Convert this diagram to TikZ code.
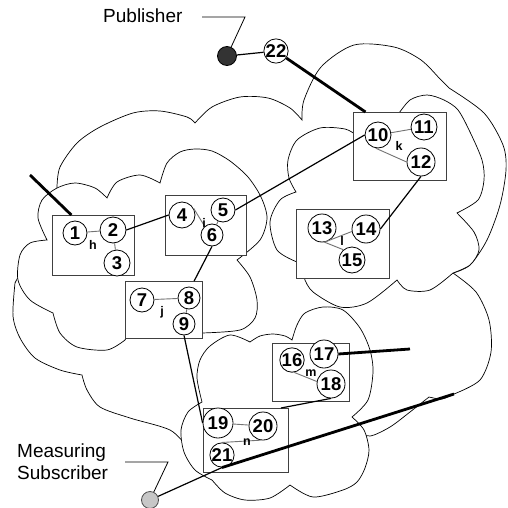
\documentclass[tikz,border=0pt]{standalone}
\usepackage{fontspec}
\setmainfont{Liberation Sans}
\begin{document}
\begin{tikzpicture}[x=1pt,y=-1pt,
  cloud/.style={draw=black, fill=white, line width=0.7pt},
  boxst/.style={draw=black!75, fill=white, line width=1.1pt, inner sep=0pt, anchor=north west},
  circ/.style={circle, draw=black, fill=white, line width=0.8pt, inner sep=0pt, font=\bfseries\fontsize{18.5}{18.5}\selectfont},
  lbl/.style={font=\bfseries\fontsize{12.5}{12.5}\selectfont, inner sep=0pt},
  txt/.style={font=\fontsize{19}{22}\selectfont, inner sep=0pt, align=left},
  inlink/.style={draw=black!55, line width=0.9pt},
  link/.style={draw=black, line width=1.2pt},
  heavy/.style={draw=black, line width=2.8pt},
  leader/.style={draw=black, line width=0.8pt}
]
\useasboundingbox (0,0) rectangle (508,508);

% ---------- clouds ----------
\path[cloud] (82,375)
 -- plot[smooth] coordinates {(82,375) (60,370) (35,358) (20,338) (13,316) (15,283)}
 -- plot[smooth] coordinates {(15,283) (28,262) (55,242) (58,215) (57,187)}
 -- plot[smooth] coordinates {(57,187) (60,167) (77,143) (100,127) (133,113) (160,111) (187,117) (195,123)}
 -- plot[smooth] coordinates {(195,123) (212,107) (240,97) (268,98) (290,108) (302,120)}
 -- plot[smooth] coordinates {(302,120) (304,100) (321,67) (354,45) (394,47) (421,60) (441,80) (449,88)}
 -- plot[smooth] coordinates {(449,88) (484,113) (503,145) (506,170) (500,205) (487,240) (470,265) (453,273)}
 -- plot[smooth] coordinates {(453,273) (476,292) (489,320) (491,352) (480,380) (454,394)}
 -- plot[smooth] coordinates {(454,394) (442,399) (429,397)}
 -- plot[smooth] coordinates {(429,397) (410,412) (390,427) (370,436) (358,430) (352,417)}
 -- plot[smooth] coordinates {(352,417) (300,440) (240,450) (187,447)}
 -- plot[smooth] coordinates {(187,447) (170,430) (130,418) (100,407) (87,390) (82,375)}
 -- cycle;

\path[cloud] (47,240)
 -- plot[smooth] coordinates {(47,240) (38,218) (42,200) (57,188) (75,183) (95,188) (107,198)}
 -- plot[smooth] coordinates {(107,198) (117,182) (140,175) (160,183)}
 -- plot[smooth] coordinates {(160,183) (167,163) (180,152) (195,149) (212,151) (230,161) (248,177) (261,197) (267,218) (260,240) (237,260)}
 -- plot[smooth] coordinates {(237,260) (250,277) (257,300) (255,318) (240,330) (202,333)}
 -- (126,338)
 -- plot[smooth] coordinates {(125,340) (107,350) (77,347) (60,333) (53,313)}
 -- plot[smooth] coordinates {(53,313) (30,300) (18,280) (20,255) (30,243) (47,240)}
 -- cycle;

\path[cloud] (296,192)
 -- plot[smooth] coordinates {(296,192) (289,178) (288,160) (297,140) (320,128) (345,129) (356,135)}
 -- (397,116)
 -- plot[smooth] coordinates {(397,116) (410,100) (427,95) (444,100) (458,110) (470,132) (482,160) (484,180) (478,200) (457,213)}
 -- plot[smooth] coordinates {(457,213) (474,232) (479,250) (470,265) (453,273)}
 -- plot[smooth] coordinates {(453,273) (430,290) (407,290) (397,280)}
 -- plot[smooth] coordinates {(397,280) (367,303) (340,307) (313,292) (305,280)}
 -- (300,265)
 -- plot[smooth] coordinates {(297,262) (277,250) (270,222) (280,200) (296,192)}
 -- cycle;

\path[cloud] (202,402)
 -- plot[smooth] coordinates {(202,402) (197,378) (200,360) (210,346) (230,335) (250,342)}
 -- plot[smooth] coordinates {(250,342) (260,336) (273,334) (285,336) (292,340)}
 -- plot[smooth] coordinates {(292,340) (297,325) (305,313) (323,307) (343,310) (360,328) (370,350) (373,372) (368,400) (352,417)}
 -- plot[smooth] coordinates {(352,417) (364,430) (369,450) (365,468) (357,482) (343,490) (313,497) (290,485)}
 -- plot[smooth] coordinates {(290,485) (270,498) (245,500) (225,493) (212,480)}
 -- plot[smooth] coordinates {(212,480) (195,470) (184,452) (181,430) (188,412) (202,402)}
 -- cycle;

% ---------- boxes ----------
\node[boxst, minimum width=82pt, minimum height=60pt] (bh) at (52,215) {};
\node[boxst, minimum width=81pt, minimum height=60pt] (bi) at (165,195) {};
\node[boxst, minimum width=77pt, minimum height=57pt] (bj) at (125,281) {};
\node[boxst, minimum width=93pt, minimum height=68pt] (bk) at (353,112) {};
\node[boxst, minimum width=93pt, minimum height=69pt] (bl) at (296,209) {};
\node[boxst, minimum width=77pt, minimum height=58pt] (bm) at (272,343) {};
\node[boxst, minimum width=85pt, minimum height=64pt] (bn) at (203,408) {};

% ---------- nodes ----------
\node[circ, minimum size=24pt] (n1) at (75,233) {1};
\node[circ, minimum size=26pt] (n2) at (113,230) {2};
\node[circ, minimum size=26pt] (n3) at (117,263) {3};
\node[circ, minimum size=26pt] (n4) at (182,215) {4};
\node[circ, minimum size=24pt] (n5) at (223,210) {5};
\node[circ, minimum size=22pt] (n6) at (212,235) {6};
\node[circ, minimum size=24pt] (n7) at (142,300) {7};
\node[circ, minimum size=22pt] (n8) at (189,298) {8};
\node[circ, minimum size=22pt] (n9) at (184,324) {9};
\node[circ, minimum size=26pt] (n10) at (378,135) {10};
\node[circ, minimum size=26pt] (n11) at (424,127) {11};
\node[circ, minimum size=28pt] (n12) at (421,162) {12};
\node[circ, minimum size=28pt] (n13) at (322,228) {13};
\node[circ, minimum size=28pt] (n14) at (366,229) {14};
\node[circ, minimum size=26pt] (n15) at (352,260) {15};
\node[circ, minimum size=24pt] (n16) at (292,360) {16};
\node[circ, minimum size=28pt] (n17) at (324,354) {17};
\node[circ, minimum size=28pt] (n18) at (331,384) {18};
\node[circ, minimum size=30pt] (n19) at (218,423) {19};
\node[circ, minimum size=28pt] (n20) at (263,426) {20};
\node[circ, minimum size=24pt] (n21) at (222,455) {21};
\node[circ, minimum size=24pt] (n22) at (276,51) {22};

\node[circle, draw=black, fill=black!80, line width=0.8pt, minimum size=19pt, inner sep=0pt] (pub) at (227,56) {};
\node[circle, draw=black!70, fill=black!22, line width=0.8pt, minimum size=17pt, inner sep=0pt] (sub) at (150,500) {};

% ---------- connectors ----------
\coordinate (hfree) at (30,175);
\coordinate (mfree) at (410,349);
\coordinate (nfree) at (454,394);
\coordinate (pl1) at (202,17);
\coordinate (pl2) at (245,17);
\coordinate (sl1) at (125,462);
\coordinate (sl2) at (168,462);

\draw[inlink] (n1) -- (n2);
\draw[inlink] (n2) -- (n3);
\draw[inlink] (n4.30) -- (n6.130);
\draw[inlink] (n5) -- (n6);
\draw[inlink] (n7) -- (n8);
\draw[inlink] (n8) -- (n9);
\draw[inlink] (n10) -- (n11);
\draw[inlink] (n10.-100) -- (n12.180);
\draw[inlink] (n13.-80) -- (n14.190);
\draw[inlink] (n13.-80) -- (n15.130);
\draw[inlink] (n16.-80) -- (n18.170);
\draw[inlink] (n19) -- (n20);
\draw[inlink] (n21.90) -- (n20.-100);

\draw[link] (n2.east) -- (n4.west);
\draw[link] (n5.east) -- (n10.west);
\draw[link] (n6.south) -- (bj.44);
\draw[link] (n12.south) -- (n14.east);
\draw[link] (n9.south) -- (n19.west);
\draw[link] (n18.south) -- (bn.43);
\draw[link] (pub) -- (n22);
\draw[link] (n21.south) -- (sub);

\draw[heavy] (n22) -- (bk.135);
\draw[heavy] (hfree) -- (bh.126);
\draw[heavy] (n17.east) -- (mfree);
\draw[heavy] (nfree) -- (n21.south);

\draw[leader] (pl1) -- (pl2) -- (pub);
\draw[leader] (sl1) -- (sl2) -- (sub);

% ---------- labels ----------
\node[lbl] (lh) at (93,245) {h};
\node[lbl] (li) at (204,223) {i};
\node[lbl] (lj) at (162,312) {j};
\node[lbl] (lk) at (399,146) {k};
\node[lbl] (ll) at (342,241) {l};
\node[lbl] (lm) at (311,373) {m};
\node[lbl] (ln) at (247,442) {n};

\node[txt, anchor=west] (tpub) at (103,16) {Publisher};
\node[txt, anchor=west] (tsub) at (17,462) {Measuring\\Subscriber};
\end{tikzpicture}
\end{document}
